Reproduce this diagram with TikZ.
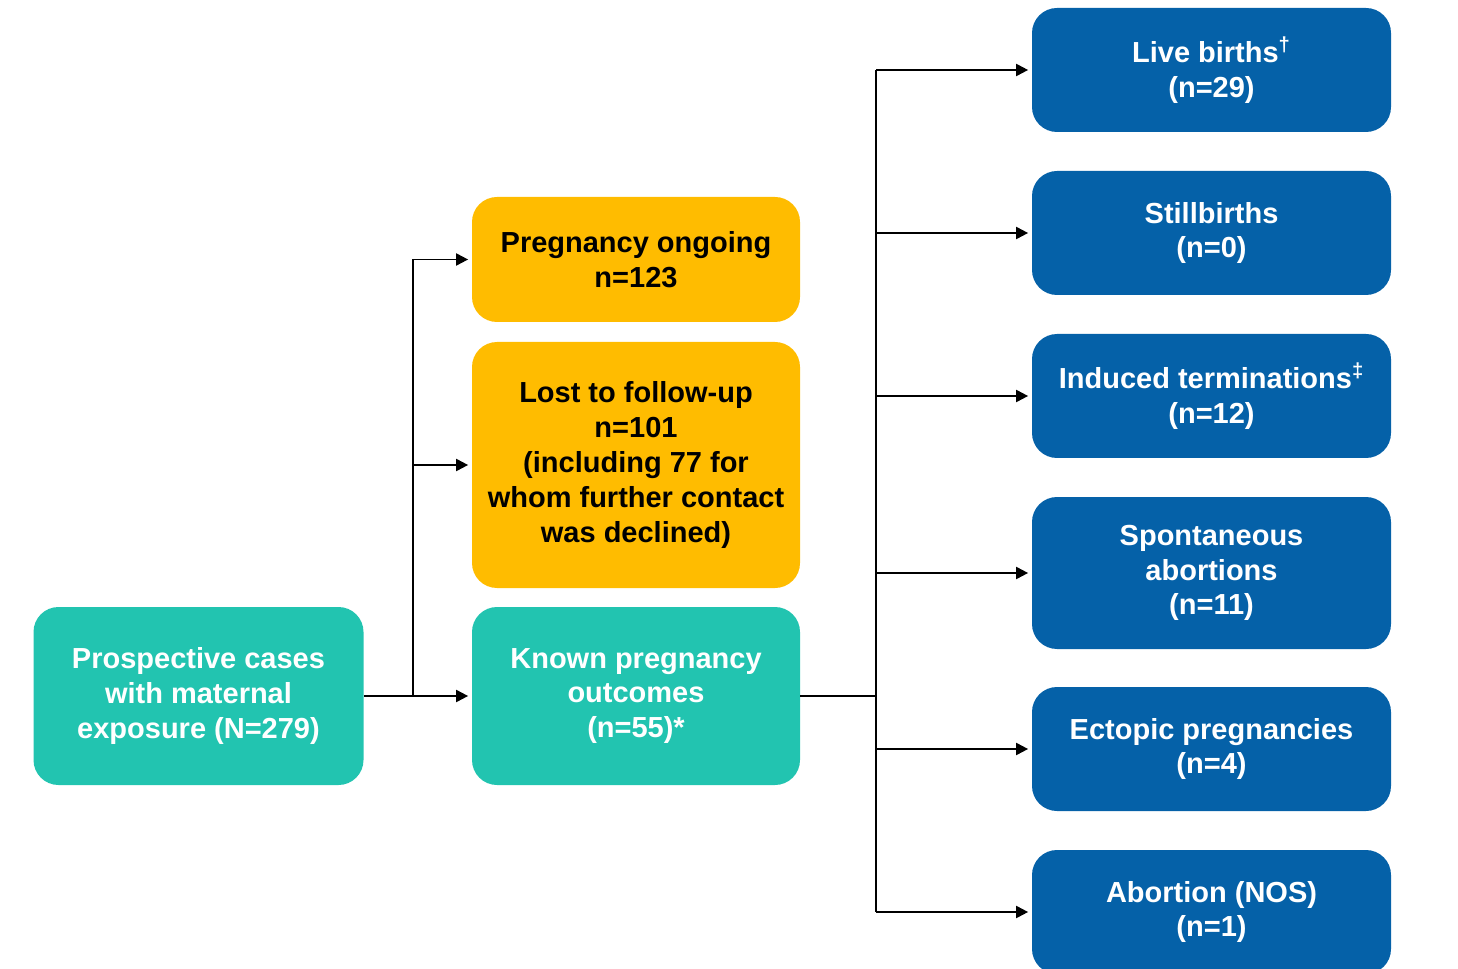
\documentclass[tikz,border=0pt]{standalone}
\usepackage{fontspec}
\setmainfont{Liberation Sans}
\usepackage{xcolor}
\usepackage{tikz}
\usetikzlibrary{arrows.meta, positioning, calc}
\definecolor{tealbox}{HTML}{22C4B0}
\definecolor{goldbox}{HTML}{FFBC00}
\definecolor{bluebox}{HTML}{0561A8}

\begin{document}
\begin{tikzpicture}[x=1cm,y=1cm,
  box/.style={rounded corners=0.5cm, align=center, inner sep=0pt,
    font=\fontsize{16.5}{19.8}\selectfont\bfseries},
  tealnode/.style={box, fill=tealbox, text=white, minimum width=6.6cm},
  goldnode/.style={box, fill=goldbox, text=black, minimum width=6.56cm},
  bluenode/.style={box, fill=bluebox, text=white, minimum width=7.18cm, minimum height=2.48cm},
  link/.style={line width=1.1pt, color=black},
  arr/.style={link, -{Triangle[length=0.24cm, width=0.24cm]}, shorten >=2pt}]
\useasboundingbox (0,0) rectangle (29.16,19.36);
% first column
\node[tealnode, minimum height=3.56cm] (pros) at (3.97,5.44) {Prospective cases\\with maternal\\exposure (N=279)};
% second column
\node[goldnode, minimum height=2.5cm]  (ongo)  at (12.72,14.17) {Pregnancy ongoing\\n=123};
\node[goldnode, minimum height=4.92cm] (lost)  at (12.72,10.06) {Lost to follow-up\\n=101\\(including 77 for\\whom further contact\\was declined)};
\node[tealnode, minimum width=6.56cm, minimum height=3.56cm] (known) at (12.72,5.44) {Known pregnancy\\outcomes\\(n=55)*};
% outcomes
\node[bluenode] (live)    at (24.23,17.96) {Live births\textsuperscript{\textdagger}\\(n=29)};
\node[bluenode] (still)   at (24.23,14.70) {Stillbirths\\(n=0)};
\node[bluenode] (induced) at (24.23,11.44) {Induced terminations\textsuperscript{\textdaggerdbl}\\(n=12)};
\node[bluenode, minimum height=3.04cm] (spont) at (24.23,7.90) {Spontaneous\\abortions\\(n=11)};
\node[bluenode] (ectopic) at (24.23,4.38) {Ectopic pregnancies\\(n=4)};
\node[bluenode] (abort)   at (24.23,1.12) {Abortion (NOS)\\(n=1)};
% connectors, left
\coordinate (splitA) at (8.26,5.44);
\draw[arr] (pros.east) -- (known.west);
\draw[link] (splitA) -- (splitA |- ongo.west);
\draw[arr] (splitA |- ongo.west) -- (ongo.west);
\draw[arr] (splitA |- lost.west) -- (lost.west);
% connectors, right
\coordinate (splitB) at (17.52,5.44);
\draw[link] (known.east) -- (splitB);
\draw[link] (splitB |- live.west) -- (splitB |- abort.west);
\foreach \n in {live, still, induced, spont, ectopic, abort}
  \draw[arr] (splitB |- \n.west) -- (\n.west);
\end{tikzpicture}
\end{document}
